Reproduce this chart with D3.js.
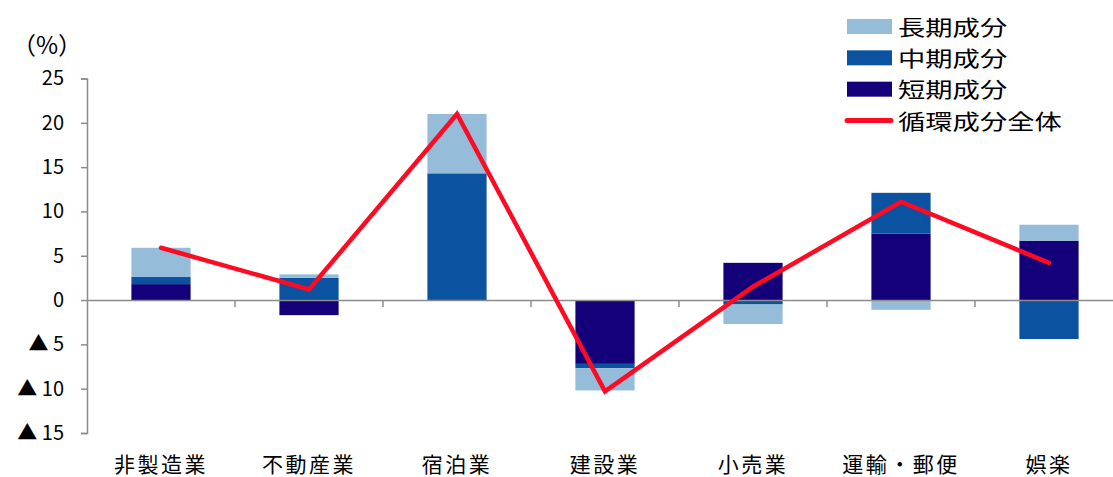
<!DOCTYPE html>
<html><head><meta charset="utf-8">
<script src="https://cdn.jsdelivr.net/npm/d3@7"></script>
<style>
html,body{margin:0;padding:0;background:#fff;}
svg{display:block;}
text{font-family:"Noto Sans CJK JP","Noto Sans",sans-serif;fill:#000;}
</style></head>
<body>
<svg id="c" width="1113" height="477"></svg>
<script>
const categories = ["非製造業","不動産業","宿泊業","建設業","小売業","運輸・郵便","娯楽"];
const shortTerm  = [1.8, -1.7, 0.0, -7.2, 4.2, 7.5, 6.7];
const midTerm    = [0.8, 2.5, 14.3, -0.5, -0.5, 4.6, -4.4];
const longTerm   = [3.3, 0.4, 6.7, -2.5, -2.2, -1.1, 1.8];
const total      = [5.9, 1.2, 21.0, -10.3, 1.5, 11.1, 4.2];
const yTicks     = [25, 20, 15, 10, 5, 0, -5, -10, -15];
const seriesNames = ["長期成分","中期成分","短期成分","循環成分全体"];
const colors = {short:"#140078", mid:"#0b52a0", long:"#95bcd9", line:"#ff0a23"};

const svg = d3.select("#c");
const x = d3.scaleBand().domain(categories).range([87, 1123]).paddingInner(0.6).paddingOuter(0.3);
const y = d3.scaleLinear().domain([-15, 25]).range([433, 78.5]);
const axisColor = "#8c8c8c";

// stacked data
const rows = categories.map((c,i)=>({cat:c, short:shortTerm[i], mid:midTerm[i], long:longTerm[i]}));
const stack = d3.stack().keys(["short","mid","long"]).offset(d3.stackOffsetDiverging);
const layers = stack(rows);

svg.append("g").selectAll("g").data(layers).join("g")
  .attr("fill", d=>colors[d.key])
  .selectAll("rect").data(d=>d).join("rect")
  .attr("x", d=>x(d.data.cat))
  .attr("width", x.bandwidth())
  .attr("y", d=>y(Math.max(d[0],d[1])))
  .attr("height", d=>Math.abs(y(d[0])-y(d[1])));

// y axis
const yAxis = d3.axisLeft(y).tickValues(yTicks).tickSize(6).tickPadding(17)
  .tickFormat(d => d < 0 ? "▲ " + (-d) : String(d));
const gy = svg.append("g").attr("transform","translate(87,0)").call(yAxis);
gy.select(".domain").attr("stroke",axisColor).attr("stroke-width",1.5);
gy.selectAll(".tick line").attr("stroke",axisColor).attr("stroke-width",1.5);
gy.selectAll(".tick text").attr("font-size","20px").attr("font-family","'Liberation Sans','Noto Sans',sans-serif").attr("fill","#000");

// x zero line with category boundary ticks
const xAxis = d3.axisBottom(x).tickSize(0).tickFormat("");
const gx = svg.append("g").attr("transform",`translate(0,${y(0)})`).call(xAxis);
gx.select(".domain").attr("stroke",axisColor).attr("stroke-width",1.5);
const step = x.step();
const bounds = categories.map((c,i)=> x(c) - (step - x.bandwidth())/2).slice(1);
gx.selectAll(".bt").data(bounds).join("line").attr("class","bt")
  .attr("x1",d=>d).attr("x2",d=>d).attr("y1",0).attr("y2",7)
  .attr("stroke",axisColor).attr("stroke-width",1.5);

// category labels
svg.append("g").selectAll("text").data(categories).join("text")
  .attr("x", d=>x(d)+x.bandwidth()/2)
  .attr("y", 472)
  .attr("text-anchor","middle")
  .attr("font-size","21px")
  .attr("letter-spacing","2.5px")
  .text(d=>d);

// unit
svg.append("text").attr("x",47).attr("y",54).attr("text-anchor","middle").attr("font-size","24px").text("（%）");

// line
const line = d3.line().x((d,i)=>x(categories[i])+x.bandwidth()/2).y(d=>y(d));
svg.append("path").datum(total).attr("d",line).attr("fill","none")
  .attr("stroke",colors.line).attr("stroke-width",4.5).attr("stroke-linejoin","miter").attr("stroke-linecap","round");

// legend
const lg = svg.append("g");
const legendKeys = ["long","mid","short","line"];
const ly = d3.scaleLinear().domain([0,3]).range([26.5,120.5]);
legendKeys.forEach((k,i)=>{
  const cy = ly(i);
  if(k==="line"){
    lg.append("line").attr("x1",847).attr("x2",891).attr("y1",cy).attr("y2",cy)
      .attr("stroke",colors.line).attr("stroke-width",5).attr("stroke-linecap","round");
  } else {
    lg.append("rect").attr("x",847).attr("y",cy-7.5).attr("width",45).attr("height",15).attr("fill",colors[k]);
  }
  const name = seriesNames[i];
  lg.append("text").attr("x",898).attr("y",cy+8).attr("font-size","21px")
    .attr("textLength", name.length*27.3).attr("lengthAdjust","spacingAndGlyphs").text(name);
});
</script>
</body></html>
